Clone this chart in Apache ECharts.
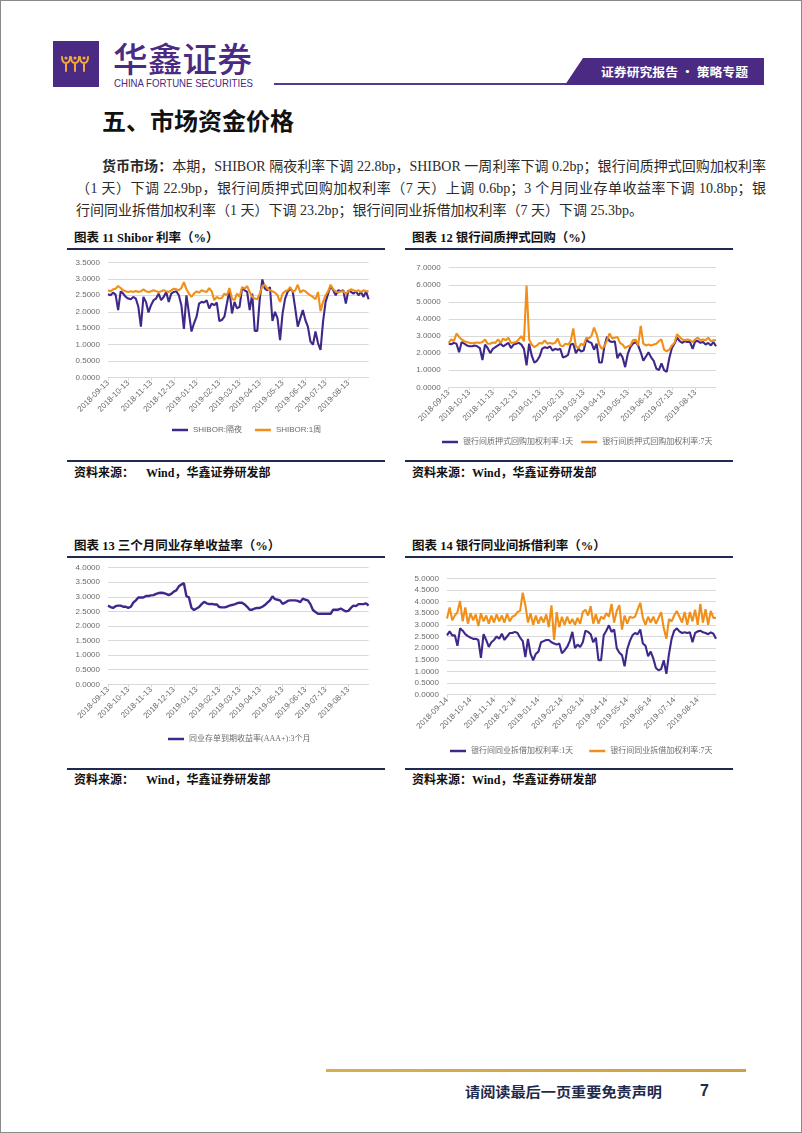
<!DOCTYPE html>
<html><head><meta charset="utf-8">
<script src="https://cdn.jsdelivr.net/npm/echarts@6/dist/echarts.min.js"></script>
<style>
html,body{margin:0;padding:0;background:#fff;}
#page{position:relative;width:802px;height:1133px;overflow:hidden;background:#fff;}
.a{position:absolute;white-space:nowrap;}
.sans{font-family:"Noto Sans CJK SC","Liberation Sans",sans-serif;}
.rule{position:absolute;height:2px;background:#1F2A52;}
.ttl{position:absolute;white-space:nowrap;font-family:"Liberation Serif","Noto Sans CJK SC",serif;font-weight:bold;font-size:12.5px;line-height:16px;color:#111;}
.src{position:absolute;white-space:nowrap;font-family:"Liberation Serif","Noto Sans CJK SC",serif;font-weight:bold;font-size:12px;line-height:16px;color:#111;}
.para{position:absolute;left:76px;width:690px;font-family:"Liberation Serif","Noto Sans CJK SC",serif;font-size:14px;line-height:22px;color:#2a2a2a;text-align:justify;text-align-last:justify;}
.chart{position:absolute;}
</style></head><body><div id="page">

<!-- header -->
<div class="a" style="left:53px;top:41px;width:46px;height:46px;background:#4A2A82;">
<svg width="46" height="46" viewBox="0 0 46 46">
<g fill="none" stroke="#F2A93B" stroke-width="2" stroke-linecap="round">
<path d="M9 16 Q9 22 13 22 Q17 22 17 16 M13 22 L13 30"/>
<path d="M18 16 Q18 22 22 22 Q26 22 26 16 M22 22 L22 30"/>
<path d="M27 16 Q27 22 31 22 Q35 22 35 16 M31 22 L31 30"/>
</g>
<g fill="#F2A93B"><circle cx="13" cy="17" r="1.6"/><circle cx="22" cy="17" r="1.6"/><circle cx="31" cy="17" r="1.6"/></g>
</svg></div>
<div class="a sans" data-w="139" style="left:113px;top:43px;font-size:34px;line-height:30px;color:#4A2A82;font-weight:500;">华鑫证券</div>
<div class="a" data-w="139" style="left:114px;top:78px;font-family:'Liberation Sans',sans-serif;font-size:11.5px;line-height:10px;color:#4A2A82;">CHINA FORTUNE SECURITIES</div>
<div class="a" style="left:274px;top:83px;width:292px;height:2px;background:#553A90;"></div>
<div class="a" style="left:565px;top:58px;width:199px;height:27px;background:#4A2A82;clip-path:polygon(18px 0,100% 0,100% 100%,0 100%);"></div>
<div class="a sans" data-w="147" style="left:601px;top:63px;font-size:12px;line-height:17px;color:#fff;font-weight:bold;">证券研究报告 • 策略专题</div>

<div class="a sans" style="left:102px;top:106px;font-size:24px;line-height:28px;color:#111;font-weight:bold;">五、市场资金价格</div>

<div class="para" style="top:156px;padding-left:26px;width:664px;"><b>货币市场：</b>本期，SHIBOR 隔夜利率下调 22.8bp，SHIBOR 一周利率下调 0.2bp；银行间质押式回购加权利率</div>
<div class="para" style="top:178px;">（1 天）下调 22.9bp，银行间质押式回购加权利率（7 天）上调 0.6bp；3 个月同业存单收益率下调 10.8bp；银</div>
<div class="para" style="top:200px;text-align:left;text-align-last:left;">行间同业拆借加权利率（1 天）下调 23.2bp；银行间同业拆借加权利率（7 天）下调 25.3bp。</div>

<!-- chart frames row 1 -->
<div class="ttl" style="left:74px;top:230px;">图表 11 Shibor 利率（%）</div>
<div class="rule" style="left:67px;top:248px;width:318px;"></div>
<div class="rule" style="left:67px;top:460px;width:318px;"></div>
<div class="src" style="left:74px;top:465px;">资料来源：&nbsp;&nbsp;&nbsp;&nbsp;Wind，华鑫证券研发部</div>

<div class="ttl" style="left:412px;top:230px;">图表 12 银行间质押式回购（%）</div>
<div class="rule" style="left:405px;top:248px;width:328px;"></div>
<div class="rule" style="left:405px;top:460px;width:328px;"></div>
<div class="src" style="left:412px;top:465px;">资料来源：Wind，华鑫证券研发部</div>

<!-- chart frames row 2 -->
<div class="ttl" style="left:74px;top:538px;">图表 13 三个月同业存单收益率（%）</div>
<div class="rule" style="left:67px;top:556px;width:318px;"></div>
<div class="rule" style="left:67px;top:768px;width:318px;"></div>
<div class="src" style="left:74px;top:772px;">资料来源：&nbsp;&nbsp;&nbsp;&nbsp;Wind，华鑫证券研发部</div>

<div class="ttl" style="left:412px;top:538px;">图表 14 银行同业间拆借利率（%）</div>
<div class="rule" style="left:405px;top:556px;width:328px;"></div>
<div class="rule" style="left:405px;top:768px;width:328px;"></div>
<div class="src" style="left:412px;top:772px;">资料来源：Wind，华鑫证券研发部</div>

<div id="c11" class="chart" style="left:60px;top:252px;width:330px;height:205px;"></div>
<div id="c12" class="chart" style="left:400px;top:252px;width:380px;height:205px;"></div>
<div id="c13" class="chart" style="left:60px;top:560px;width:330px;height:205px;"></div>
<div id="c14" class="chart" style="left:400px;top:560px;width:380px;height:205px;"></div>

<!-- footer -->
<div class="a" style="left:326px;top:1069px;width:420px;height:2.5px;background:linear-gradient(90deg,#D9AE52,#CFA04A);"></div>
<div class="a sans" data-w="197" style="left:465px;top:1082px;font-size:14px;line-height:18px;color:#1F2A4E;font-weight:bold;">请阅读最后一页重要免责声明</div>
<div class="a" style="left:700px;top:1081px;font-family:'Liberation Sans',sans-serif;font-size:16px;line-height:20px;color:#1F2A4E;font-weight:bold;">7</div>

<div class="a" style="left:0;top:0;width:802px;height:1133px;box-sizing:border-box;border:1px solid #8a8a8a;pointer-events:none;"></div>
</div>
<script>
// ---- data ----
const dates = [
"2018-09-13","2018-09-17","2018-09-20","2018-09-24","2018-09-27",
"2018-10-01","2018-10-04","2018-10-08","2018-10-11","2018-10-15","2018-10-18","2018-10-22","2018-10-25","2018-10-29",
"2018-11-01","2018-11-05","2018-11-08","2018-11-12","2018-11-15","2018-11-19","2018-11-22","2018-11-26","2018-11-29",
"2018-12-03","2018-12-06","2018-12-10","2018-12-13","2018-12-17","2018-12-20","2018-12-24","2018-12-27","2018-12-31",
"2019-01-03","2019-01-07","2019-01-10","2019-01-14","2019-01-17","2019-01-21","2019-01-24","2019-01-28","2019-01-31",
"2019-02-04","2019-02-07","2019-02-11","2019-02-14","2019-02-18","2019-02-21","2019-02-25","2019-02-28",
"2019-03-04","2019-03-07","2019-03-11","2019-03-14","2019-03-18","2019-03-21","2019-03-25","2019-03-28",
"2019-04-01","2019-04-04","2019-04-08","2019-04-11","2019-04-15","2019-04-18","2019-04-22","2019-04-25","2019-04-29",
"2019-05-02","2019-05-06","2019-05-09","2019-05-13","2019-05-16","2019-05-20","2019-05-23","2019-05-27","2019-05-30",
"2019-06-03","2019-06-06","2019-06-10","2019-06-13","2019-06-17","2019-06-20","2019-06-24","2019-06-27",
"2019-07-01","2019-07-04","2019-07-08","2019-07-11","2019-07-15","2019-07-18","2019-07-22","2019-07-25","2019-07-29",
"2019-08-01","2019-08-05","2019-08-08","2019-08-12","2019-08-15","2019-08-19","2019-08-22","2019-08-26","2019-08-29",
"2019-09-02","2019-09-05","2019-09-09"];

const tickLabels13 = ["2018-09-13","2018-10-13","2018-11-13","2018-12-13","2019-01-13","2019-02-13","2019-03-13","2019-04-13","2019-05-13","2019-06-13","2019-07-13","2019-08-13"];
const tickLabels14 = ["2018-09-14","2018-10-14","2018-11-14","2018-12-14","2019-01-14","2019-02-14","2019-03-14","2019-04-14","2019-05-14","2019-06-14","2019-07-14","2019-08-14"];

const shiborON = [2.53,2.50,2.58,2.52,2.05,2.62,2.55,2.45,2.40,2.38,
2.45,2.40,2.15,1.55,2.45,2.30,1.98,2.20,2.35,2.40,
2.55,2.35,2.45,2.60,2.30,2.55,2.60,2.62,2.50,2.20,
1.48,2.50,1.95,1.40,1.65,1.85,2.25,2.30,2.28,2.35,
2.10,2.25,2.20,2.28,1.72,1.75,1.85,2.25,2.66,1.95,
2.30,2.10,2.15,2.72,2.65,2.60,2.05,2.55,1.42,1.42,
2.40,2.98,2.70,2.65,2.75,1.72,2.00,1.80,1.14,1.95,
2.40,2.60,2.70,2.62,2.10,1.55,1.80,2.05,1.75,1.55,
1.10,1.00,1.40,1.05,0.84,1.70,2.30,2.55,2.78,2.65,
2.50,2.65,2.62,2.65,2.25,2.65,2.60,2.55,2.62,2.50,
2.60,2.45,2.62,2.38];
const shibor1W = [2.65,2.62,2.68,2.70,2.78,2.72,2.65,2.62,2.60,2.62,
2.60,2.63,2.60,2.62,2.68,2.62,2.60,2.62,2.65,2.62,
2.60,2.62,2.65,2.62,2.60,2.65,2.70,2.68,2.65,2.72,
2.90,2.68,2.55,2.45,2.55,2.62,2.58,2.65,2.62,2.60,
2.72,2.62,2.35,2.45,2.40,2.42,2.55,2.50,2.72,2.40,
2.35,2.55,2.45,2.75,2.70,2.78,2.60,2.45,2.40,2.38,
2.55,2.78,2.82,2.70,2.65,2.62,2.58,2.50,2.30,2.55,
2.62,2.65,2.75,2.60,2.65,2.82,2.58,2.65,2.62,2.55,
2.50,2.45,2.38,2.60,2.02,2.30,2.50,2.62,2.82,2.68,
2.62,2.58,2.62,2.62,2.55,2.62,2.68,2.65,2.62,2.65,
2.60,2.65,2.62,2.62];

const repo1D = [2.55,2.52,2.60,2.55,2.05,2.65,2.55,2.45,2.40,2.40,
2.45,2.40,2.30,1.60,2.50,2.30,2.00,2.25,2.35,2.45,
2.55,2.40,2.50,2.60,2.30,2.50,2.55,2.60,2.50,2.25,
1.29,2.55,1.85,1.45,1.55,1.80,2.25,2.35,2.30,2.40,
2.15,2.25,2.20,2.25,1.75,1.80,1.90,2.50,2.55,2.00,
2.25,2.10,2.15,2.80,2.65,2.60,2.20,2.55,1.45,1.45,
2.40,2.95,2.70,2.65,2.70,1.70,2.00,1.75,1.18,1.95,
2.35,2.55,2.65,2.45,2.05,1.55,1.80,2.05,1.75,1.55,
1.10,1.00,1.40,1.00,0.90,1.70,2.30,2.55,2.90,2.70,
2.60,2.70,2.65,2.65,2.25,2.70,2.70,2.60,2.65,2.50,
2.60,2.45,2.65,2.40];
const repo7D = [2.60,2.80,2.70,3.15,2.95,2.80,2.70,2.65,2.60,2.58,
2.60,2.62,2.60,2.65,2.80,2.55,2.55,2.62,2.60,2.80,
2.60,2.85,2.75,2.90,2.60,2.62,2.65,2.80,3.00,2.70,
5.95,2.80,2.50,2.35,2.45,2.60,2.55,2.75,2.55,2.60,
2.55,2.60,2.85,2.45,2.40,2.55,2.50,2.70,3.45,2.40,
2.30,2.55,2.45,2.90,2.85,3.00,3.50,3.10,2.50,2.25,
2.40,2.75,3.15,2.85,2.90,2.95,2.60,2.50,2.30,2.40,
2.45,2.75,2.80,2.45,3.60,2.55,2.45,2.50,2.45,2.50,
2.55,2.70,2.80,2.20,2.10,2.20,2.45,2.60,3.10,2.95,
2.80,2.75,2.80,2.75,2.65,2.80,2.90,2.75,2.80,2.75,
2.90,2.70,2.75,2.75];

const ncd3M = [2.70,2.65,2.62,2.68,2.70,2.70,2.66,2.66,2.62,2.66,
2.80,2.88,2.98,2.98,2.98,3.03,3.03,3.05,3.06,3.10,
3.13,3.14,3.13,3.10,3.06,3.10,3.18,3.22,3.36,3.42,
3.47,3.02,2.98,2.62,2.55,2.60,2.65,2.75,2.83,2.78,
2.75,2.76,2.74,2.74,2.65,2.64,2.64,2.66,2.70,2.72,
2.74,2.78,2.80,2.80,2.74,2.66,2.56,2.56,2.60,2.62,
2.62,2.66,2.72,2.80,2.88,3.02,2.92,2.90,2.88,2.76,
2.80,2.86,2.88,2.88,2.88,2.86,2.82,2.94,2.90,2.88,
2.75,2.55,2.48,2.42,2.42,2.42,2.42,2.42,2.42,2.56,
2.56,2.56,2.60,2.55,2.50,2.52,2.62,2.70,2.68,2.75,
2.75,2.75,2.78,2.70];

const ibor1D = [2.55,2.72,2.55,2.55,2.10,2.85,2.75,2.60,2.52,2.45,
2.40,2.40,2.35,1.58,2.60,2.35,2.05,2.25,2.35,2.50,
2.40,2.62,2.35,2.50,2.65,2.65,2.70,2.65,2.45,2.30,
1.62,2.40,1.75,1.48,1.75,1.85,2.25,2.30,2.35,2.35,
2.25,2.20,2.15,2.20,1.78,1.90,2.05,2.30,2.70,2.00,
2.15,2.05,2.25,2.75,2.70,2.60,2.25,2.45,1.48,1.48,
2.55,2.75,2.98,2.70,2.80,2.00,1.80,1.70,1.22,1.95,
2.30,2.55,2.65,2.60,2.80,2.20,2.10,1.65,1.85,1.55,
1.15,1.05,1.10,1.48,0.90,1.75,2.40,2.75,2.85,2.72,
2.65,2.68,2.65,2.68,2.25,2.65,2.72,2.75,2.68,2.65,
2.60,2.68,2.62,2.40];
const ibor7D = [3.27,3.75,3.20,3.40,3.55,4.02,3.15,3.75,3.05,3.50,
3.20,3.45,2.95,3.50,3.15,3.40,3.05,3.40,3.10,3.45,
3.15,3.40,3.10,3.48,3.15,3.35,3.40,3.55,3.60,4.38,
3.85,3.10,3.50,3.00,3.40,3.05,3.35,3.10,3.45,2.90,
3.84,2.35,3.55,2.90,3.35,3.00,3.35,3.05,3.25,3.00,
3.30,3.05,3.55,3.65,3.40,3.80,3.05,3.45,3.05,3.35,
3.25,3.50,3.35,3.90,3.10,3.60,3.85,2.80,3.40,3.05,
3.35,3.30,3.35,3.65,3.95,3.30,3.00,3.35,3.10,3.35,
3.05,3.30,3.55,2.85,2.40,3.25,3.15,3.40,3.60,3.35,
3.10,3.55,3.00,3.55,3.15,3.65,3.00,3.90,3.10,3.67,
3.00,3.60,3.30,3.30];

const PURPLE = '#40288A', ORANGE = '#F0901A';

// ---- fit some header texts ----
document.querySelectorAll('[data-w]').forEach(el => {
  const w = +el.dataset.w, nat = el.getBoundingClientRect().width;
  if (nat > 0) { el.style.transformOrigin = '0 50%'; el.style.transform = 'scaleX(' + (w / nat) + ')'; }
});

function ts(s){ return new Date(s + 'T00:00:00').getTime(); }

// index of the category nearest to each tick label date
function labelIndexMap(ticks){
  const m = {};
  ticks.forEach(t => {
    const tt = ts(t); let best = 0, bd = Infinity;
    dates.forEach((d, i) => { const dd = Math.abs(ts(d) - tt); if (dd < bd) { bd = dd; best = i; } });
    m[best] = t;
  });
  return m;
}

function makeChart(id, g, yMax, yInt, ticks, series, lg){
  const chart = echarts.init(document.getElementById(id), null, {renderer:'canvas'});
  const lm = labelIndexMap(ticks);
  const show = (idx) => lm.hasOwnProperty(idx);
  chart.setOption({
    animation: false,
    grid: {left: g[0], top: g[1], width: g[2], height: g[3], containLabel: false},
    legend: {left: lg.left, top: lg.top, icon: 'rect', itemWidth: 16, itemHeight: 2.5, itemGap: lg.gap,
      textStyle: {fontSize: 8, color: '#6b6b6b', fontFamily: lg.font},
      data: series.map(s => s.name)},
    xAxis: {type: 'category', data: dates, boundaryGap: false,
      axisLine: {show: true, lineStyle: {color: '#D9D9D9', width: 1}},
      axisTick: {show: true, interval: show, length: 3, lineStyle: {color: '#D9D9D9'}},
      axisLabel: {interval: show, rotate: 45, fontSize: 8, color: '#6b6b6b', margin: 4, hideOverlap: false,
        fontFamily: 'Liberation Sans, sans-serif', formatter: (v, idx) => (lm[idx] || '')},
      splitLine: {show: false}},
    yAxis: {type: 'value', min: 0, max: yMax, interval: yInt,
      axisLine: {show: false}, axisTick: {show: false},
      axisLabel: {fontSize: 8, color: '#6b6b6b', margin: 8, fontFamily: 'Liberation Sans, sans-serif', formatter: v => v.toFixed(4)},
      splitLine: {lineStyle: {color: '#D9D9D9', width: 1}}},
    series: series.map(s => ({type: 'line', name: s.name, showSymbol: false, symbol: 'none',
      data: s.values, lineStyle: {width: lg.lw || 2.1, color: s.color}, itemStyle: {color: s.color}}))
  });
}

const sansF = 'Liberation Sans, Noto Sans CJK SC, sans-serif';
const serifF = 'Liberation Serif, Noto Sans CJK SC, serif';

makeChart('c11', [48, 10.3, 260.6, 115.4], 3.5, 0.5, tickLabels13, [
  {name: 'SHIBOR:隔夜', values: shiborON, color: PURPLE},
  {name: 'SHIBOR:1周', values: shibor1W, color: ORANGE}
], {left: 107, top: 169, gap: 13, font: sansF});

makeChart('c12', [48.7, 15.7, 267.3, 119.6], 7, 1, tickLabels13, [
  {name: '银行间质押式回购加权利率:1天', values: repo1D, color: PURPLE},
  {name: '银行间质押式回购加权利率:7天', values: repo7D, color: ORANGE}
], {left: 37, top: 181, gap: 8, font: serifF});

makeChart('c13', [48, 7.7, 260.6, 116.6], 4, 0.5, tickLabels13, [
  {name: '同业存单到期收益率(AAA+):3个月', values: ncd3M, color: PURPLE}
], {left: 103, top: 170, gap: 10, font: serifF, lw: 2.4});

makeChart('c14', [47, 18.3, 269, 116.4], 5, 0.5, tickLabels14, [
  {name: '银行间同业拆借加权利率:1天', values: ibor1D, color: PURPLE},
  {name: '银行间同业拆借加权利率:7天', values: ibor7D, color: ORANGE}
], {left: 45, top: 182, gap: 16, font: serifF});
</script>
</body></html>
